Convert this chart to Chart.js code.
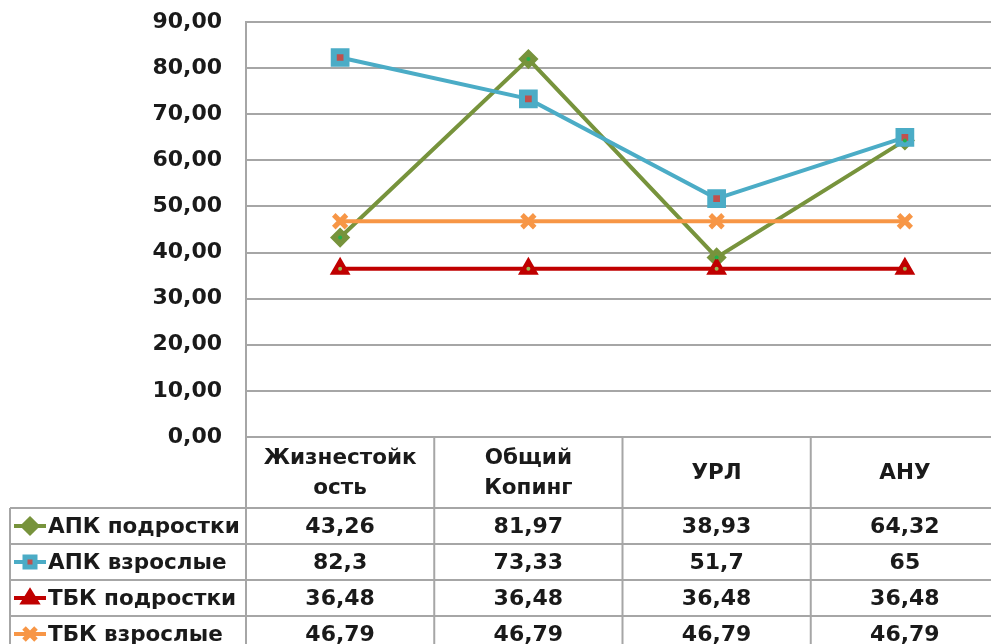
<!DOCTYPE html>
<html>
<head>
<meta charset="utf-8">
<script src="https://cdn.jsdelivr.net/npm/chart.js@4/dist/chart.umd.min.js"></script>
<style>
  html, body { margin: 0; padding: 0; background: #fff; overflow: hidden; }
  #wrap { width: 1000px; height: 644px; }
</style>
</head>
<body>
<div id="wrap"><canvas id="chart" width="1000" height="644"></canvas></div>
<script>
// categories (multi-line labels as shown in the data table header)
const categories = [['Жизнестойк', 'ость'], ['Общий', 'Копинг'], ['УРЛ'], ['АНУ']];

// series
const seriesNames = ['АПК подростки', 'АПК взрослые', 'ТБК подростки', 'ТБК взрослые'];
const apkTeens = [43.26, 81.97, 38.93, 64.32];
const apkAdults = [82.3, 73.33, 51.7, 65];
const tbkTeens = [36.48, 36.48, 36.48, 36.48];
const tbkAdults = [46.79, 46.79, 46.79, 46.79];

// y axis
const yMin = 0;
const yMax = 90;
const yStep = 10;

const FAMILY = '"DejaVu Sans", Verdana, sans-serif';
const NUM_FONT = 'bold 22px ' + FAMILY;
const LABEL_FONT = 'bold 21.5px ' + FAMILY;
const GRID = '#a6a6a6';
const TEXT = '#1a1a1a';

const styles = [
  { line: '#77933c', fill: '#77933c', center: '#22b14c', shape: 'diamond' },
  { line: '#4bacc6', fill: '#c0504d', center: null, shape: 'square' },
  { line: '#c00000', fill: '#c00000', center: '#9bbb59', shape: 'triangle' },
  { line: '#f79646', fill: '#f79646', center: null, shape: 'cross' }
];

function fmt(v) {
  return String(v).replace('.', ',');
}

// marker used in the table rows (legend keys)
function drawKey(ctx, shape, st, x, y) {
  ctx.save();
  ctx.strokeStyle = st.line;
  ctx.fillStyle = st.fill;
  ctx.lineWidth = 4;
  ctx.beginPath();
  ctx.moveTo(x - 16, y);
  ctx.lineTo(x + 16, y);
  ctx.stroke();
  ctx.beginPath();
  if (shape === 'diamond') {
    ctx.moveTo(x, y - 8); ctx.lineTo(x + 8, y); ctx.lineTo(x, y + 8); ctx.lineTo(x - 8, y); ctx.closePath();
    ctx.fill(); ctx.lineWidth = 3; ctx.stroke();
  } else if (shape === 'square') {
    ctx.rect(x - 5, y - 5, 10, 10);
    ctx.fill(); ctx.lineWidth = 5; ctx.stroke();
  } else if (shape === 'triangle') {
    ctx.moveTo(x, y - 8); ctx.lineTo(x + 8, y + 5); ctx.lineTo(x - 8, y + 5); ctx.closePath();
    ctx.fill(); ctx.lineWidth = 3; ctx.stroke();
  } else {
    ctx.lineWidth = 5;
    ctx.moveTo(x - 6, y - 6); ctx.lineTo(x + 6, y + 6);
    ctx.moveTo(x + 6, y - 6); ctx.lineTo(x - 6, y + 6);
    ctx.stroke();
  }
  ctx.restore();
}

const dataTable = {
  id: 'dataTable',
  afterDraw(chart) {
    const ctx = chart.ctx;
    const area = chart.chartArea;
    const xs = chart.scales.x;
    const n = categories.length;
    const colW = (area.right - area.left) / n;
    const headTop = area.bottom;
    const headBottom = headTop + 71;
    const rowH = 36;
    const tableLeft = 10;
    const rows = [apkTeens, apkAdults, tbkTeens, tbkAdults];
    const tableBottom = headBottom + rowH * rows.length;

    ctx.save();
    ctx.strokeStyle = GRID;
    ctx.lineWidth = 2;
    ctx.beginPath();
    // horizontal lines
    ctx.moveTo(area.left, headTop); ctx.lineTo(area.right, headTop);
    for (let r = 0; r <= rows.length; r++) {
      const y = headBottom + r * rowH;
      ctx.moveTo(tableLeft, y); ctx.lineTo(area.right, y);
    }
    // vertical lines
    for (let i = 0; i <= n; i++) {
      const x = area.left + i * colW;
      ctx.moveTo(x, headTop); ctx.lineTo(x, tableBottom);
    }
    ctx.moveTo(tableLeft, headBottom); ctx.lineTo(tableLeft, tableBottom);
    ctx.stroke();

    ctx.fillStyle = TEXT;
    ctx.font = LABEL_FONT;
    ctx.textAlign = 'center';
    ctx.textBaseline = 'middle';
    const headMid = (headTop + headBottom) / 2 + 1;
    categories.forEach((lines, i) => {
      const cx = xs.getPixelForValue(i);
      lines.forEach((t, k) => {
        const y = headMid + (k - (lines.length - 1) / 2) * 30;
        ctx.fillText(t, cx, y);
      });
    });

    rows.forEach((vals, r) => {
      const cy = headBottom + r * rowH + rowH / 2 + 1;
      ctx.font = NUM_FONT;
      ctx.textAlign = 'center';
      vals.forEach((v, i) => {
        ctx.fillText(fmt(v), xs.getPixelForValue(i), cy);
      });
      drawKey(ctx, styles[r].shape, styles[r], 30, cy - 1);
      ctx.font = LABEL_FONT;
      ctx.textAlign = 'left';
      ctx.fillStyle = TEXT;
      ctx.fillText(seriesNames[r], 48, cy);
    });
    ctx.restore();
  },
  afterDatasetsDraw(chart) {
    // small coloured centres inside some markers
    const ctx = chart.ctx;
    chart.data.datasets.forEach((ds, d) => {
      const c = ds.centerColor;
      if (!c) return;
      chart.getDatasetMeta(d).data.forEach(pt => {
        ctx.save();
        ctx.fillStyle = c;
        ctx.beginPath();
        ctx.arc(pt.x, pt.y, 2, 0, Math.PI * 2);
        ctx.fill();
        ctx.restore();
      });
    });
  }
};

function makeSet(label, data, st, pointStyle, radius, bw) {
  return {
    label: label,
    data: data,
    borderColor: st.line,
    borderWidth: 4,
    pointStyle: pointStyle,
    pointRadius: radius,
    pointBorderWidth: bw,
    pointBackgroundColor: st.fill,
    pointBorderColor: st.line,
    centerColor: st.center,
    tension: 0
  };
}

new Chart(document.getElementById('chart'), {
  type: 'line',
  data: {
    labels: categories,
    datasets: [
      makeSet(seriesNames[0], apkTeens, styles[0], 'rectRot', 8, 3),
      makeSet(seriesNames[1], apkAdults, styles[1], 'rect', 9, 6),
      makeSet(seriesNames[2], tbkTeens, styles[2], 'triangle', 9, 3),
      makeSet(seriesNames[3], tbkAdults, styles[3], 'crossRot', 9, 5)
    ].reverse()
  },
  options: {
    responsive: false,
    animation: false,
    devicePixelRatio: 1,
    layout: { autoPadding: false, padding: { top: 22, right: 1, bottom: 207, left: 0 } },
    plugins: {
      legend: { display: false },
      tooltip: { enabled: false }
    },
    scales: {
      x: {
        type: 'category',
        offset: true,
        display: false
      },
      y: {
        min: yMin,
        max: yMax,
        afterFit(scale) {
          scale.width = 246;
          scale.paddingTop = 0;
          scale.paddingBottom = 0;
        },
        ticks: {
          stepSize: yStep,
          padding: 24,
          color: TEXT,
          font: { family: FAMILY, size: 22, weight: 'bold' },
          callback: v => v.toFixed(2).replace('.', ',')
        },
        grid: { color: GRID, lineWidth: 2, drawTicks: false },
        border: { color: GRID, width: 2 }
      }
    }
  },
  plugins: [dataTable]
});
</script>
</body>
</html>
